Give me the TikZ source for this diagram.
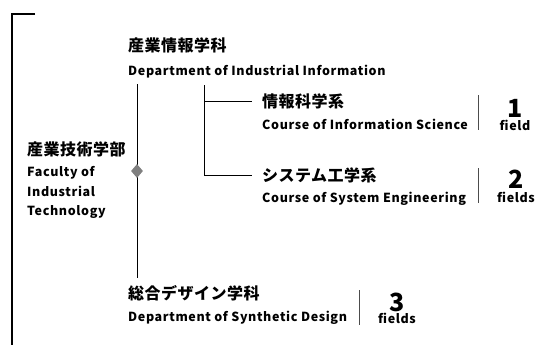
\documentclass[tikz,border=0pt]{standalone}
\usepackage{fontspec}
\setmainfont{Noto Sans CJK JP}
\newfontfamily\jpf{Noto Sans CJK JP}[LetterSpace=3]
\newfontfamily\latf{Noto Sans CJK JP}[LetterSpace=5]
\newfontfamily\numf{Noto Sans CJK JP}
\usetikzlibrary{shapes.geometric}
\begin{document}
\begin{tikzpicture}[x=1pt,y=-1pt,
  jp/.style={anchor=base west,inner sep=0pt,font=\jpf\bfseries\fontsize{16}{18}\selectfont},
  en/.style={anchor=base west,inner sep=0pt,font=\latf\bfseries\fontsize{12.5}{14}\selectfont},
  num/.style={anchor=base,inner sep=0pt,text depth=0pt,text height=17pt,font=\numf\bfseries\fontsize{25}{26}\selectfont},
  fld/.style={anchor=base,inner sep=0pt,text height=9pt,font=\latf\bfseries\fontsize{12.5}{14}\selectfont},
  ln/.style={draw=black,line width=0.8pt},
  sep/.style={draw=black!70,line width=0.9pt}]
\useasboundingbox (0,0) rectangle (537,345);
% outer bracket
\coordinate (bt) at (35,14);
\coordinate (bc) at (12,14);
\coordinate (bb) at (12,345);
\draw[line width=1.3pt] (bt) -- (bc) -- (bb);
% faculty
\node[jp] (fac) at (27,155) {産業技術学部};
\node[en] (fac1) at (27,176) {Faculty of};
\node[en] (fac2) at (27,196) {Industrial};
\node[en] (fac3) at (27,215) {Technology};
% main trunk
\coordinate (tt) at (137,84);
\coordinate (tb) at (137,278);
\draw[ln] (tt) -- (tb);
\node[diamond,fill=black!50,inner sep=0pt,minimum width=12pt,minimum height=14pt] (dia) at (137,171) {};
% department of industrial information
\node[jp] (d1) at (128,52) {産業情報学科};
\node[en] (d1e) at (128,75) {Department of Industrial Information};
% branch
\coordinate (b0) at (204,85);
\coordinate (b1) at (204,101);
\coordinate (b2) at (204,175);
\coordinate (e1) at (252,101);
\coordinate (e2) at (252,175);
\draw[ln] (b0) -- (b2) -- (e2);
\draw[ln] (b1) -- (e1);
% course 1
\node[jp] (c1) at (262,107) {情報科学系};
\node[en] (c1e) at (262,129) {Course of Information Science};
\coordinate (s1a) at (478,95);
\coordinate (s1b) at (478,130);
\draw[sep] (s1a) -- (s1b);
\node[num] (n1) at (515,117) {1};
\node[fld] (f1) at (515,130) {field};
% course 2
\node[jp] (c2) at (262,181) {システム工学系};
\node[en] (c2e) at (262,202) {Course of System Engineering};
\coordinate (s2a) at (478,168);
\coordinate (s2b) at (478,203);
\draw[sep] (s2a) -- (s2b);
\node[num] (n2) at (516,188) {2};
\node[fld] (f2) at (516,202) {fields};
% department of synthetic design
\node[jp] (d2) at (128,299) {総合デザイン学科};
\node[en] (d2e) at (128,321) {Department of Synthetic Design};
\coordinate (s3a) at (359,290);
\coordinate (s3b) at (359,325);
\draw[sep] (s3a) -- (s3b);
\node[num] (n3) at (397,311) {3};
\node[fld] (f3) at (397,323) {fields};
\end{tikzpicture}
\end{document}
